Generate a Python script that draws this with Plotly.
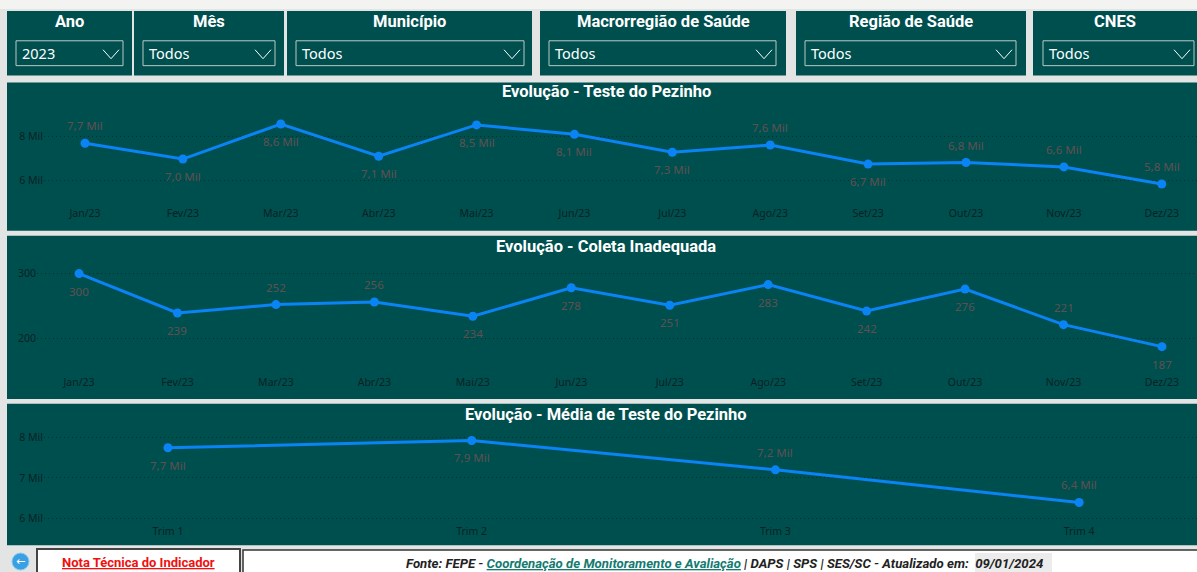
import plotly.graph_objects as go

W, H = 1197, 572

months = ["Jan/23", "Fev/23", "Mar/23", "Abr/23", "Mai/23", "Jun/23", "Jul/23", "Ago/23", "Set/23", "Out/23", "Nov/23", "Dez/23"]
testes = [7680, 6960, 8560, 7090, 8520, 8090, 7270, 7600, 6730, 6800, 6600, 5820]
testes_side = [1, -1, -1, -1, -1, -1, -1, 1, -1, 1, 1, 1]
coleta = [300, 239, 252, 256, 234, 278, 251, 283, 242, 276, 221, 187]
coleta_side = [-1, -1, 1, 1, -1, -1, -1, -1, -1, -1, 1, -1]
trims = ["Trim 1", "Trim 2", "Trim 3", "Trim 4"]
media = [7740, 7920, 7200, 6400]
media_side = [-1, -1, 1, 1]

filters = [
    ("Ano", "2023", 7, 132, 16, 123),
    ("Mês", "Todos", 134, 284, 143, 275),
    ("Município", "Todos", 287, 532, 296, 524),
    ("Macrorregião de Saúde", "Todos", 540, 786, 549, 776),
    ("Região de Saúde", "Todos", 796, 1026, 805, 1016),
    ("CNES", "Todos", 1033, 1197, 1043, 1194),
]

PANEL = "#004f4f"
LINE = "#0a84f5"
LABEL = "#604f4f"
TICK = "#0a2224"
TITLE_FONT = "Roboto"
BODY_FONT = "Noto Sans"


def px(v):
    return v / W


def py(v):
    return 1 - v / H


shapes = []
annos = []


def rect(x0, y0, x1, y1, fill, line=None, lw=0):
    shapes.append(dict(type="rect", xref="paper", yref="paper", x0=px(x0), x1=px(x1), y0=py(y1), y1=py(y0),
                       fillcolor=fill, line=dict(color=line or fill, width=lw), layer="below"))


def text(x, y, s, size, color, font=BODY_FONT, anchor="center", yanchor="middle"):
    annos.append(dict(xref="paper", yref="paper", x=px(x), y=py(y), text=s, showarrow=False,
                      font=dict(size=size, color=color, family=font), xanchor=anchor, yanchor=yanchor,
                      borderpad=0, borderwidth=0))


# top strip and panels
rect(0, 0, W, 9, "#f3f3f2")
for name, val, x0, x1, bx0, bx1 in filters:
    rect(x0, 11, x1, 76, PANEL)
    rect(bx0, 41, bx1, 66, PANEL, "#b9c9c7", 1)
    text((x0 + x1) / 2, 22, f"<b>{name}</b>", 16.5, "white", TITLE_FONT)
    text(bx0 + 6, 53.5, val, 14.5, "white", "Noto Sans", anchor="left")
    cx = bx1 - 12
    shapes.append(dict(type="path", xref="paper", yref="paper",
                       path=f"M {px(cx-8)} {py(50)} L {px(cx)} {py(59)} L {px(cx+8)} {py(50)}",
                       line=dict(color="white", width=1), layer="above"))

rect(7, 83, W, 232, PANEL)
rect(7, 237, W, 401, PANEL)
rect(7, 406, W, 548, PANEL)
text(606, 92, "<b>Evolução - Teste do Pezinho</b>", 16.5, "white", TITLE_FONT)
text(606, 248, "<b>Evolução - Coleta Inadequada</b>", 16.5, "white", TITLE_FONT)
text(606, 417, "<b>Evolução - Média de Teste do Pezinho</b>", 16.5, "white", TITLE_FONT)

# footer
rect(37, 552, 240, 578, "white", "#444444", 2)
rect(243, 553, 1199, 578, "white", "#333333", 1.5)
rect(975, 556, 1052, 575, "#ececec")
shapes.append(dict(type="circle", xref="paper", yref="paper", x0=px(12), x1=px(29), y0=py(573), y1=py(556),
                   fillcolor="#3aa0e4", line=dict(color="#8cc8ee", width=1), layer="below"))
text(20.5, 564.5, "←", 11, "white", "DejaVu Sans")
text(138, 565.5, "<b><u>Nota Técnica do Indicador</u></b>", 13, "#f01010", TITLE_FONT)
text(406, 566.5, "<b><i>Fonte: FEPE - <span style='color:#137a70'><u>Coordenação de Monitoramento e Avaliação</u></span>"
                 " | DAPS | SPS | SES/SC - Atualizado em:  09/01/2024</i></b>", 13.2, "#222222", "Roboto", anchor="left")

fig = go.Figure()


def chart(n, cats, vals, sides, fmt, dom_x, dom_y, xr, yr, yticks, yticktext):
    sfx = "" if n == 1 else str(n)
    fig.add_trace(go.Scatter(x=cats, y=vals, mode="lines+markers", xaxis="x" + sfx, yaxis="y" + sfx,
                             line=dict(color=LINE, width=3), marker=dict(color=LINE, size=9),
                             hoverinfo="skip", showlegend=False, cliponaxis=False))
    fig.update_layout({
        "xaxis" + sfx: dict(domain=[px(dom_x[0]), px(dom_x[1])], range=xr, type="category", anchor="y" + sfx,
                            showgrid=False, zeroline=False, showline=False, ticks="", ticklabelstandoff=1,
                            tickfont=dict(size=10.5, color=TICK, family=BODY_FONT)),
        "yaxis" + sfx: dict(domain=[py(dom_y[1]), py(dom_y[0])], range=yr, anchor="x" + sfx,
                            tickvals=yticks, ticktext=yticktext, zeroline=False, showline=False, ticks="",
                            showgrid=True, griddash="1px,3px", gridcolor="#0c2c2c", gridwidth=1,
                            tickfont=dict(size=10.5, color=TICK, family=BODY_FONT)),
    })
    for c, v, s in zip(cats, vals, sides):
        annos.append(dict(xref="x" + sfx, yref="y" + sfx, x=c, y=v, text=fmt(v), showarrow=False,
                          yshift=17.5 * s, font=dict(size=11.5, color=LABEL, family=BODY_FONT)))


def mil(v):
    return f"{v / 1000:.1f}".replace(".", ",") + " Mil"


chart(1, months, testes, testes_side, mil, (44, W), (101, 206), [-0.419, 11.36], [4864, 9636],
      [6000, 8000], ["6 Mil", "8 Mil"])
chart(2, months, coleta, coleta_side, str, (37, W), (257, 375), [-0.427, 11.356], [146.2, 327.7],
      [200, 300], ["200", "300"])
chart(3, trims, media, media_side, mil, (44, W), (428, 525), [-0.408, 3.388], [5915, 8280],
      [6000, 7000, 8000], ["6 Mil", "7 Mil", "8 Mil"])

fig.update_layout(width=W, height=H, autosize=False, margin=dict(l=0, r=0, t=0, b=0),
                  paper_bgcolor="#e3e5e5", plot_bgcolor="rgba(0,0,0,0)",
                  shapes=shapes, annotations=annos, showlegend=False)

fig.write_html("out.html", config=dict(displayModeBar=False),
               post_script="document.body.style.margin='0';document.body.style.overflow='hidden';")
